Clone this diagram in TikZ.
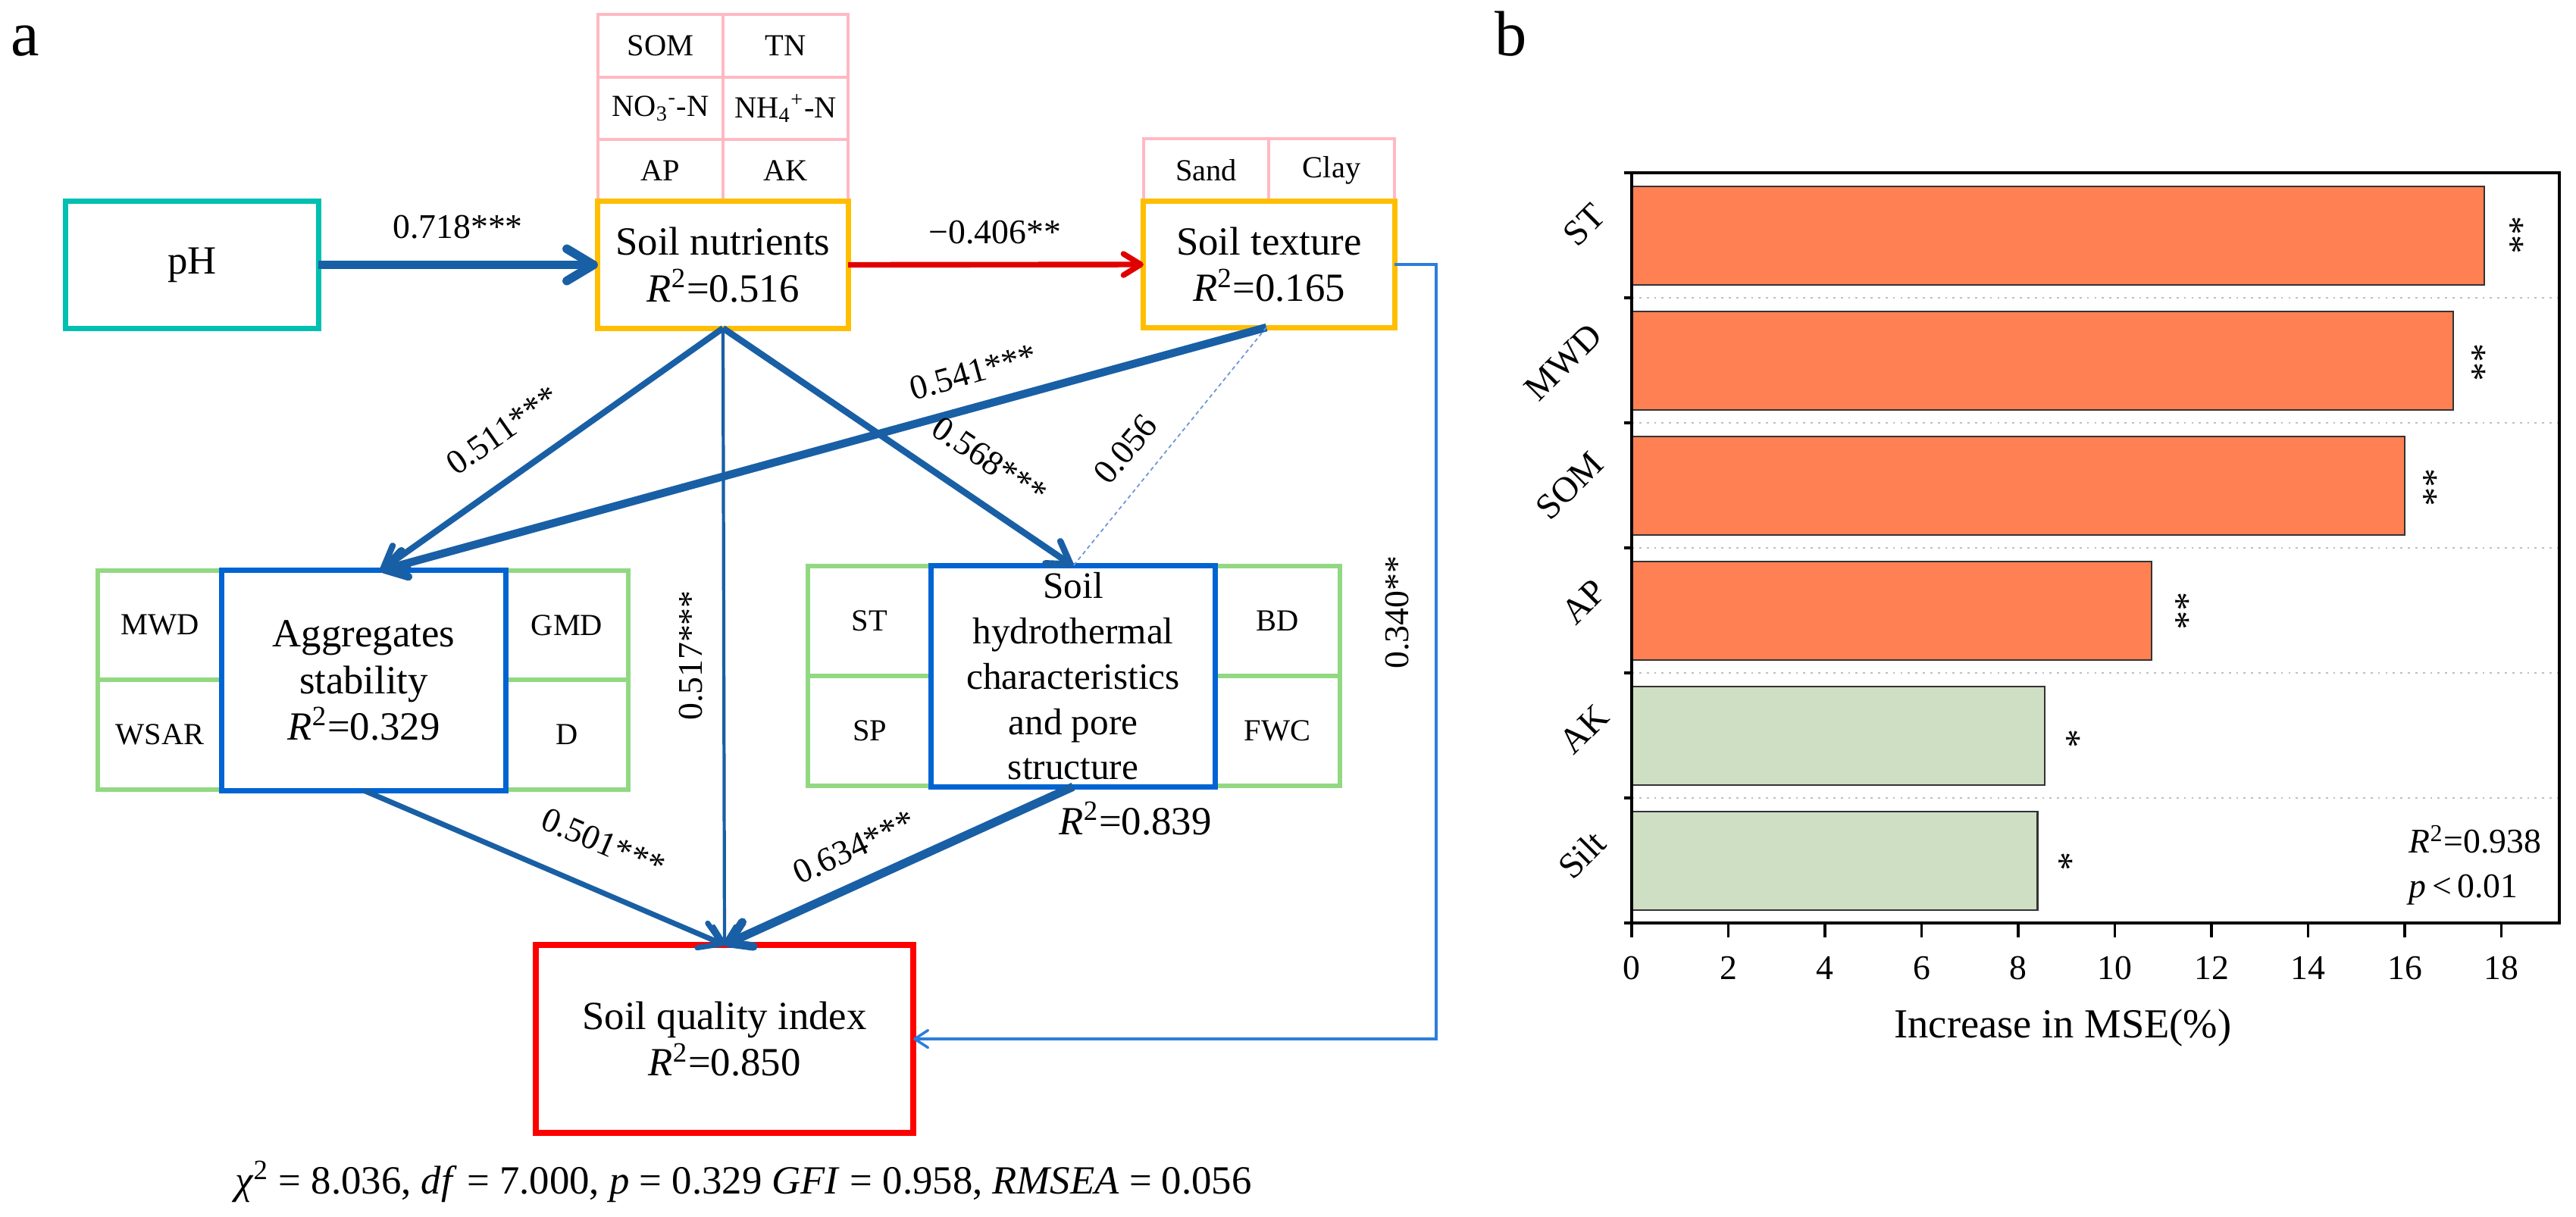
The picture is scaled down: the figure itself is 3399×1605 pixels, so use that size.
\documentclass[tikz,border=0pt]{standalone}
\usepackage{fontspec}
\setmainfont{Liberation Serif}
\usetikzlibrary{arrows.meta}
\definecolor{teal1}{RGB}{0,192,178}
\definecolor{pink1}{RGB}{255,185,195}
\definecolor{gold1}{RGB}{255,190,0}
\definecolor{blue1}{RGB}{0,100,210}
\definecolor{green1}{RGB}{146,216,130}
\definecolor{arr}{RGB}{25,95,165}
\definecolor{redarr}{RGB}{225,0,0}
\definecolor{redbox}{RGB}{255,0,0}
\definecolor{thinb}{RGB}{45,125,220}
\definecolor{dotb}{RGB}{110,150,215}
\definecolor{coral1}{RGB}{255,128,82}
\definecolor{sage1}{RGB}{206,223,196}
\begin{document}
\begin{tikzpicture}[x=0.01cm,y=-0.01cm]
\tikzset{
  cell/.style={draw=pink1, line width=1.3pt, inner sep=0, outer sep=0, font=\fontsize{11.5}{13}\selectfont},
  gcell/.style={draw=green1, line width=1.5pt, inner sep=0, outer sep=0, font=\fontsize{11.5}{13}\selectfont},
  mainbox/.style={line width=2pt, inner sep=0, outer sep=0, align=center, font=\fontsize{15}{17.4}\selectfont},
  coef/.style={inner sep=0, font=\fontsize{13}{15}\selectfont},
  pth/.style={draw=arr, line width=#1},
  tipL/.style={-{Straight Barb[length=10pt,width=12pt,round]}},
  tipM/.style={-{Straight Barb[length=8pt,width=10pt,round]}},
  tipS/.style={-{Straight Barb[length=6.5pt,width=8pt,round]}},
  tipXS/.style={-{Straight Barb[length=5pt,width=6.5pt,round]}},
  axl/.style={line width=0.9pt, draw=black},
  barl/.style={line width=0.7pt, draw=black!80},
  gridl/.style={draw=black!25, line width=0.8pt, dotted},
  ticklab/.style={inner sep=0, anchor=base, font=\fontsize{13}{15}\selectfont},
  catlab/.style={inner sep=0, rotate=45, font=\fontsize{13.5}{15}\selectfont},
  star/.style={inner sep=0, rotate=-90, font=\fontsize{14}{15}\selectfont},
  panel/.style={inner sep=0, anchor=base west, font=\fontsize{24}{28}\selectfont}
}
\useasboundingbox (0,0) rectangle (3399,1605);
\fill[white] (0,0) rectangle (3399,1605);

% panel letters
\node[panel] (la) at (14,73) {a};
\node[panel] (lb) at (1972,73) {b};

% pH
\node[mainbox, draw=teal1, minimum width=3.33cm, minimum height=1.67cm] (ph) at (253.5,349.5) {pH};

% soil nutrient indicators
\node[cell, minimum width=1.65cm, minimum height=0.83cm] (som) at (871.5,60.5) {SOM};
\node[cell, minimum width=1.65cm, minimum height=0.83cm] (tn) at (1036.5,60.5) {TN};
\node[cell, minimum width=1.65cm, minimum height=0.82cm] (no3) at (871.5,143) {NO\textsubscript{3}\textsuperscript{-}-N};
\node[cell, minimum width=1.65cm, minimum height=0.82cm] (nh4) at (1036.5,143) {NH\textsubscript{4}\textsuperscript{+}-N};
\node[cell, minimum width=1.65cm, minimum height=0.82cm] (ap) at (871.5,225) {AP};
\node[cell, minimum width=1.65cm, minimum height=0.82cm] (ak) at (1036.5,225) {AK};
\node[mainbox, draw=gold1, minimum width=3.30cm, minimum height=1.67cm] (nut) at (954,349.5) {Soil nutrients\\\textit{R}\textsuperscript{2}=0.516};

% soil texture
\node[cell, minimum width=1.65cm, minimum height=0.83cm] (sand) at (1591.5,224.5) {Sand};
\node[cell, minimum width=1.66cm, minimum height=0.83cm] (clay) at (1757,224.5) {Clay};
\node[mainbox, draw=gold1, minimum width=3.31cm, minimum height=1.66cm] (tex) at (1674.5,349) {Soil texture\\\textit{R}\textsuperscript{2}=0.165};

% aggregates
\node[gcell, minimum width=1.64cm, minimum height=1.44cm] (mwd) at (211,825) {MWD};
\node[gcell, minimum width=1.64cm, minimum height=1.45cm] (wsar) at (211,969.5) {WSAR};
\node[gcell, minimum width=1.62cm, minimum height=1.44cm] (gmd) at (748,825) {GMD};
\node[gcell, minimum width=1.62cm, minimum height=1.45cm] (dd) at (748,969.5) {D};
\node[mainbox, draw=blue1, minimum width=3.74cm, minimum height=2.90cm] (agg) at (480,898) {Aggregates\\stability\\\textit{R}\textsuperscript{2}=0.329};

% hydrothermal
\node[gcell, minimum width=1.63cm, minimum height=1.45cm] (st) at (1147.5,819.5) {ST};
\node[gcell, minimum width=1.63cm, minimum height=1.45cm] (sp) at (1147.5,964.5) {SP};
\node[gcell, minimum width=1.65cm, minimum height=1.45cm] (bd) at (1685.5,819.5) {BD};
\node[gcell, minimum width=1.65cm, minimum height=1.45cm] (fwc) at (1685.5,964.5) {FWC};
\node[mainbox, draw=blue1, minimum width=3.74cm, minimum height=2.91cm, font=\fontsize{14}{17}\selectfont] (hyd) at (1416,892.5) {Soil\\hydrothermal\\characteristics\\and pore\\structure};
\node[inner sep=0, font=\fontsize{15}{17}\selectfont] (r839) at (1498,1080) {\textit{R}\textsuperscript{2}=0.839};

% soil quality index
\node[mainbox, draw=redbox, line width=2.2pt, minimum width=4.98cm, minimum height=2.48cm] (sqi) at (956,1371) {Soil quality index\\\textit{R}\textsuperscript{2}=0.850};

% connectors
\coordinate (aggtop) at ([xshift=0.22cm]agg.north);
\coordinate (texbot) at ([xshift=-0.035cm]tex.south);
\draw[pth=3.3pt, tipL] (ph.east) -- (nut.west);
\draw[draw=redarr, line width=2.1pt, tipS] (nut.east) -- (tex.west);
\draw[pth=2.3pt, tipM] (nut.south) -- (aggtop);
\draw[pth=3pt, tipM] (texbot) -- (aggtop);
\draw[pth=2.4pt, tipM] (nut.south) -- (hyd.north);
\draw[draw=dotb, line width=0.5pt, dash pattern=on 1.5pt off 1.2pt] (texbot) -- (hyd.north);
\draw[pth=1.2pt, tipS] (nut.south) -- (sqi.north);
\draw[pth=2pt, tipM] (agg.south) -- (sqi.north);
\draw[pth=3.2pt, tipM] (hyd.south) -- (sqi.north);
\draw[draw=thinb, line width=1pt, tipXS] (tex.east) -- ++(55,0) |- (sqi.east);

% coefficients
\node[coef] (k1) at (604,300) {0.718***};
\node[coef] (k2) at (1313,307) {−0.406**};
\node[coef, rotate=35] (k3) at (663,568) {0.511***};
\node[coef, rotate=15.4] (k4) at (1284,491) {0.541***};
\node[coef, rotate=-34] (k5) at (1306,608) {0.568***};
\node[coef, rotate=50] (k6) at (1485,593) {0.056};
\node[coef, rotate=90] (k7) at (912,865) {0.517***};
\node[coef, rotate=-23] (k8) at (796,1112) {0.501***};
\node[coef, rotate=25] (k9) at (1127,1118) {0.634***};
\node[coef, rotate=90] (k10) at (1844,808) {0.340**};

% fit indices
\node[inner sep=0, anchor=base, font=\fontsize{15}{17}\selectfont] (fit) at (981,1575) {\textit{χ}\textsuperscript{2} = 8.036, \textit{df} = 7.000, \textit{p} = 0.329 \textit{GFI} = 0.958, \textit{RMSEA} = 0.056};

% ---------- panel b ----------
\foreach \yy in {393,558,723,888,1053} \draw[gridl] (2153,\yy) -- (3377,\yy);
\foreach \i/\v/\c in {0/17.65/coral1,1/17.0/coral1,2/16.0/coral1,3/10.76/coral1,4/8.55/sage1,5/8.4/sage1}
  \draw[barl, fill=\c] (2153,{246+165*\i}) rectangle ({2153+63.75*\v},{376+165*\i});
\draw[axl] (2153,228) rectangle (3377,1218);
\foreach \yy in {228,393,558,723,888,1053,1218} \draw[axl] (2143,\yy) -- (2153,\yy);
\foreach \k [evaluate=\k as \lab using int(2*\k)] in {0,...,9} {
  \draw[axl] ({2153+127.5*\k},1218) -- ({2153+127.5*\k},1237);
  \node[ticklab] (t\k) at ({2153+127.5*\k},1292) {\lab};
}
\node[inner sep=0, anchor=base, font=\fontsize{15.5}{17}\selectfont] (xtitle) at (2722,1369) {Increase in MSE(\%)};
\node[catlab] (cST) at (2090,297) {ST};
\node[catlab] (cMWD) at (2063,478) {MWD};
\node[catlab] (cSOM) at (2071,641) {SOM};
\node[catlab] (cAP) at (2090,794) {AP};
\node[catlab] (cAK) at (2090,962) {AK};
\node[catlab] (cSilt) at (2087,1128) {Silt};
\node[star] (s1) at (3314,310) {**};
\node[star] (s2) at (3264,478) {**};
\node[star] (s3) at (3200,643) {**};
\node[star] (s4) at (2873,806) {**};
\node[star] (s5) at (2729,975) {*};
\node[star] (s6) at (2719,1137) {*};
\node[inner sep=0, anchor=west, font=\fontsize{13}{15}\selectfont] (r938) at (3178,1108) {\textit{R}\textsuperscript{2}=0.938};
\node[inner sep=0, anchor=west, font=\fontsize{13}{15}\selectfont] (pval) at (3178,1174) {\textit{p}\,<\,0.01};
\end{tikzpicture}
\end{document}
